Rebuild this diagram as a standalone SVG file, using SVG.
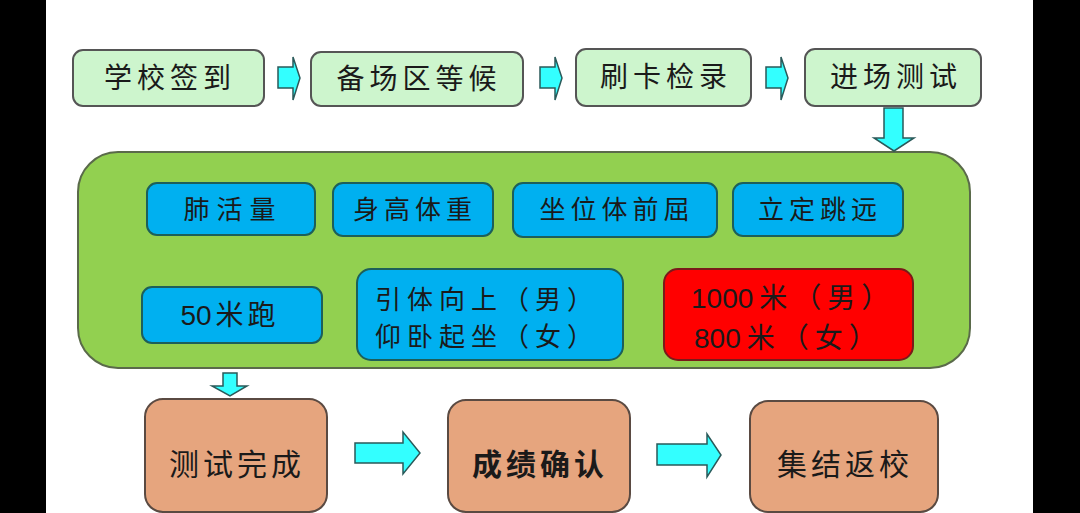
<svg xmlns="http://www.w3.org/2000/svg" width="1080" height="513" viewBox="0 0 1080 513">
<style>
.t{font-family:"Liberation Sans","Noto Sans CJK SC",sans-serif;fill:#1a1a1a;dominant-baseline:central;text-anchor:middle}
.top{fill:#CDF5CD;stroke:#555;stroke-width:2}
.blue{fill:#00B0F0;stroke:#1d5f5a;stroke-width:2}
.red{fill:#FF0000;stroke:#7a1a1a;stroke-width:2}
.bot{fill:#E6A57E;stroke:#5a4a42;stroke-width:2}
.arr{fill:#33FFFF;stroke:#2a5a5a;stroke-width:1.5}
.f28{font-size:28px;letter-spacing:5px}
.f26{font-size:26px;letter-spacing:5px}
.f30{font-size:30px;letter-spacing:4px}
.dg{letter-spacing:0px}
</style>
<rect x="0" y="0" width="1080" height="513" fill="#fff"/>
<rect x="0" y="0" width="46" height="513" fill="#000"/>
<rect x="1033" y="0" width="47" height="513" fill="#000"/>

<g id="container">
<rect x="78" y="152" width="892" height="216" rx="40" fill="#92D050" stroke="#5a6a4a" stroke-width="2"/>
</g>

<g id="n1"><rect class="top" x="73" y="50" width="191" height="56" rx="10"/><text class="t f28" x="170" y="78">学校签到</text></g>
<g id="n2"><rect class="top" x="311" y="52" width="212" height="54" rx="10"/><text class="t f28" x="419" y="79">备场区等候</text></g>
<g id="n3"><rect class="top" x="576" y="49" width="175" height="57" rx="10"/><text class="t f28" x="666" y="77">刷卡检录</text></g>
<g id="n4"><rect class="top" x="805" y="49" width="176" height="57" rx="10"/><text class="t f28" x="896" y="77">进场测试</text></g>

<g id="b1"><rect class="blue" x="147" y="183" width="168" height="52" rx="10"/><text class="t f26" x="233" y="210" style="letter-spacing:7px">肺活量</text></g>
<g id="b2"><rect class="blue" x="333" y="183" width="160" height="53" rx="10"/><text class="t f26" x="415" y="210">身高体重</text></g>
<g id="b3"><rect class="blue" x="513" y="183" width="204" height="54" rx="10"/><text class="t f26" x="617" y="210">坐位体前屈</text></g>
<g id="b4"><rect class="blue" x="733" y="183" width="170" height="53" rx="10"/><text class="t f26" x="820" y="210">立定跳远</text></g>
<g id="b5"><rect class="blue" x="142" y="287" width="180" height="56" rx="10"/><text class="t" x="230" y="315" style="font-size:28px;letter-spacing:4px"><tspan class="dg">5</tspan>0米跑</text></g>
<g id="b6"><rect class="blue" x="357" y="269" width="266" height="91" rx="14"/><text class="t f26" x="487" y="300" style="letter-spacing:6px">引体向上（男）</text><text class="t f26" x="487" y="337" style="letter-spacing:6px">仰卧起坐（女）</text></g>
<g id="b7"><rect class="red" x="664" y="269" width="249" height="91" rx="14"/><text class="t" x="691" y="298" style="font-size:28px;text-anchor:start;letter-spacing:6px"><tspan class="dg">100</tspan>0米（男）</text><text class="t" x="694" y="338" style="font-size:28px;text-anchor:start;letter-spacing:6px"><tspan class="dg">80</tspan>0米（女）</text></g>

<g id="m1"><rect class="bot" x="145" y="399" width="182" height="113" rx="18"/><text class="t f30" x="237" y="464">测试完成</text></g>
<g id="m2"><rect class="bot" x="448" y="400" width="182" height="112" rx="18"/><text class="t f30" x="540" y="464" style="font-weight:bold">成绩确认</text></g>
<g id="m3"><rect class="bot" x="750" y="401" width="188" height="111" rx="18"/><text class="t f30" x="845" y="464">集结返校</text></g>

<g id="connectors">
<polygon class="arr" points="278,67 293,67 293,57 300,78 293,100 293,88 278,88"/>
<polygon class="arr" points="540,67 555,67 555,57 562,78 555,100 555,88 540,88"/>
<polygon class="arr" points="766,67 781,67 781,57 788,78 781,100 781,88 766,88"/>
<polygon class="arr" points="884,108 903,108 903,138 914,138 894,151 874,138 884,138"/>
<polygon class="arr" points="223,373 237,373 237,386 247,386 230,396 212,386 223,386"/>
<polygon class="arr" points="355,443 403,443 403,432 420,453 403,474 403,463 355,463"/>
<polygon class="arr" points="657,444 707,444 707,434 721,455 707,477 707,465 657,465"/>
</g>
</svg>
